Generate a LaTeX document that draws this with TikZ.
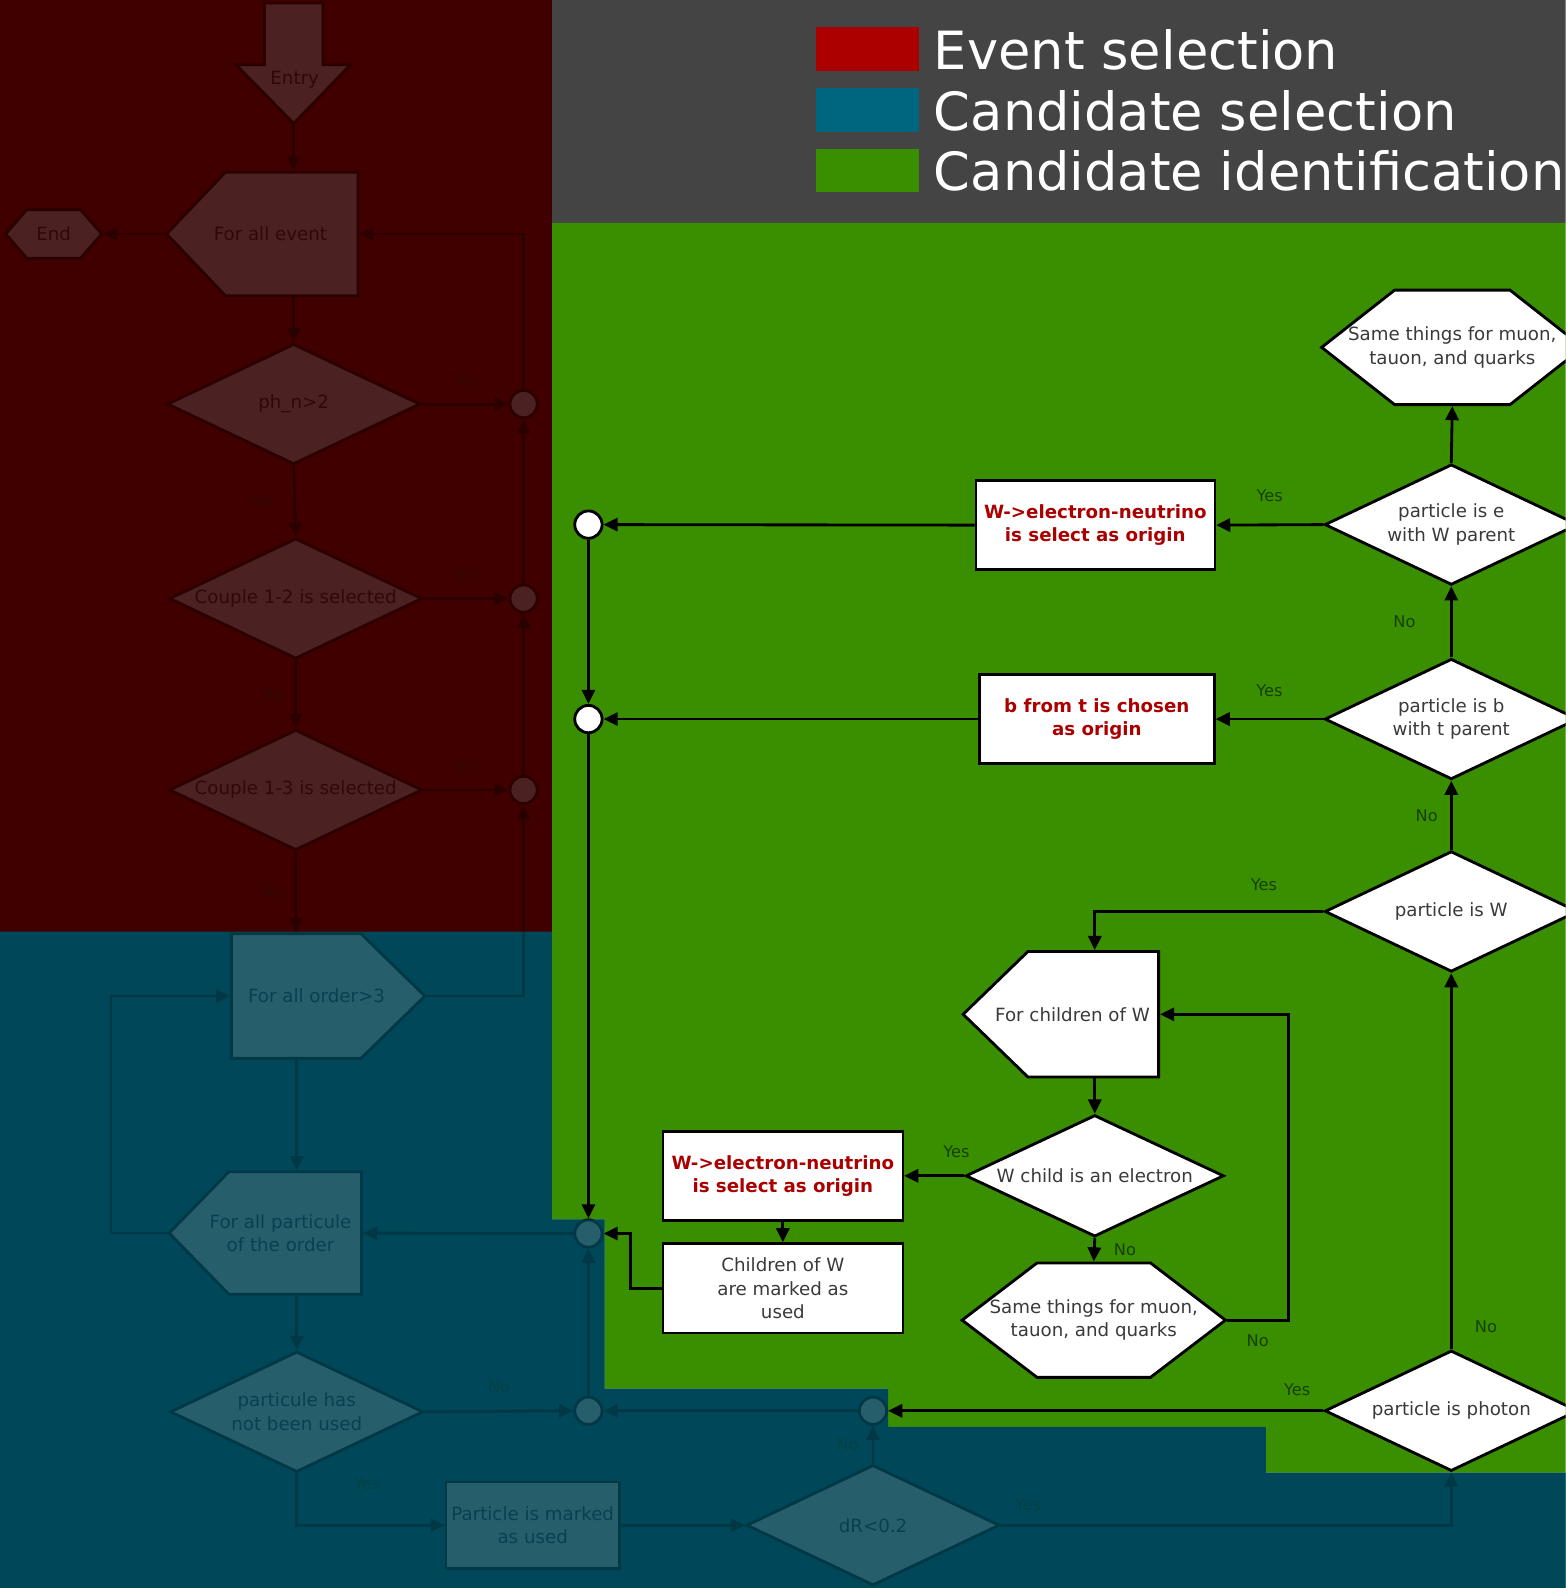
\documentclass[tikz,border=0pt]{standalone}
\usepackage{fontspec}
\setmainfont{DejaVu Sans}
\usetikzlibrary{positioning,arrows.meta,shapes.geometric}

\definecolor{evtred}{RGB}{170,0,0}
\definecolor{candblue}{RGB}{0,102,128}
\definecolor{candgreen}{RGB}{58,143,0}
\definecolor{headgrey}{RGB}{68,68,68}
\definecolor{txtgrey}{RGB}{58,58,58}
\definecolor{lblgreen}{RGB}{22,64,0}
\definecolor{shadered}{RGB}{50,0,0}
\definecolor{shadeblue}{RGB}{0,66,83}

\newcommand\nodefont{\fontsize{18}{23}\selectfont}
\newcommand\lblfont{\fontsize{16}{18}\selectfont}
\newcommand\legfont{\fontsize{52}{60}\selectfont}

% outlines: centre x, centre y, half width, half height, cut
\newcommand\hexshape[5]{\filldraw[shp] (#1-#3,#2) -- (#1-#3+#5,#2-#4) -- (#1+#3-#5,#2-#4) -- (#1+#3,#2) -- (#1+#3-#5,#2+#4) -- (#1-#3+#5,#2+#4) -- cycle;}
\newcommand\penleft[5]{\filldraw[shp] (#1-#3,#2) -- (#1-#3+#5,#2-#4) -- (#1+#3,#2-#4) -- (#1+#3,#2+#4) -- (#1-#3+#5,#2+#4) -- cycle;}
\newcommand\penright[5]{\filldraw[shp] (#1+#3,#2) -- (#1+#3-#5,#2-#4) -- (#1-#3,#2-#4) -- (#1-#3,#2+#4) -- (#1+#3-#5,#2+#4) -- cycle;}

\begin{document}
\begin{tikzpicture}[
  x=1pt, y=-1pt,
  every node/.style={font=\nodefont, text=txtgrey, align=center},
  shp/.style={draw=black, line width=2.8pt, fill=white, inner sep=0pt},
  decision/.style={shp, diamond, aspect=2.1, minimum width=250pt, minimum height=119pt},
  procbox/.style={shp, rectangle, line width=2.5pt, minimum width=237pt, minimum height=88pt},
  origin/.style={procbox, text=evtred, font=\nodefont\bfseries},
  shapetext/.style={rectangle, inner sep=0pt, outer sep=1.4pt},
  junc/.style={shp, circle, minimum size=27pt},
  lbl/.style={font=\lblfont, text=lblgreen, inner sep=0pt},
  arr/.style={-{Triangle[length=14pt,width=13pt]}, line width=2.8pt, draw=black},
  legtext/.style={font=\legfont, text=white, anchor=west, inner sep=0pt}
]
\useasboundingbox (0,0) rectangle (1546,1568);
\clip (0,0) rectangle (1546,1568);

% regions
\fill[evtred] (0,0) rectangle (545,920);
\fill[headgrey] (545,0) rectangle (1546,220);
\fill[candblue] (0,920) -- (545,920) -- (545,1204) -- (597,1204) -- (597,1371) -- (877,1371) -- (877,1409) -- (1250,1409) -- (1250,1454) -- (1546,1454) -- (1546,1568) -- (0,1568) -- cycle;
\fill[candgreen] (545,220) -- (1546,220) -- (1546,1454) -- (1250,1454) -- (1250,1409) -- (877,1409) -- (877,1371) -- (597,1371) -- (597,1204) -- (545,1204) -- cycle;

% legend
\fill[evtred] (806,27) rectangle (907,70);
\fill[candblue] (806,87) rectangle (907,130);
\fill[candgreen] (806,147) rectangle (907,190);
\node[legtext] (legE) at (922,49) {Event selection};
\node[legtext] (legS) at (922,109) {Candidate selection};
\node[legtext] (legI) at (922,169) {Candidate identification};

% event selection
\filldraw[shp] (261,3) -- (319,3) -- (319,64) -- (346,64) -- (290,122) -- (233,64) -- (261,64) -- cycle;
\node (entry) at (291,79) {Entry};
\coordinate (entrytip) at (290,122);
\penleft{259}{231}{94.5}{61}{58}
\node[shapetext, minimum width=189pt, minimum height=122pt] (forE) at (259,231) {\hspace*{16pt}For all event};
\hexshape{53}{231}{47.5}{24}{21}
\node[shapetext, minimum width=95pt, minimum height=48pt] (endN) at (53,231) {End};
\node[decision] (decN) at (290,399) {ph\_n>2};
\node[decision] (dec12) at (292,591) {Couple 1-2 is selected};
\node[decision] (dec13) at (292,780) {Couple 1-3 is selected};
\node[junc] (junN) at (517,399) {};
\node[junc] (jun12) at (517,591) {};
\node[junc] (jun13) at (517,780) {};

% candidate selection
\penright{324}{983.5}{95.5}{61.5}{63}
\node[shapetext, minimum width=191pt, minimum height=123pt] (forO) at (324,983.5) {For all order>3\hspace*{23pt}};
\penleft{262}{1217.5}{95}{60.5}{59}
\node[shapetext, minimum width=190pt, minimum height=121pt] (forP) at (262,1217.5) {\hspace*{30pt}For all particule\\\hspace*{30pt}of the order};
\node[decision] (decU) at (293,1394) {particule has\\not been used};
\node[procbox, minimum width=171pt, minimum height=85pt] (boxU) at (526,1506) {Particle is marked\\as used};
\node[decision] (decR) at (862,1506) {dR<0.2};
\node[junc] (junP) at (581,1218) {};
\node[junc] (junU) at (581,1393) {};
\node[junc] (junD) at (862,1393) {};

% candidate identification
\hexshape{1434}{343}{129}{56.5}{72}
\node[shapetext, minimum width=258pt, minimum height=113pt] (hexT) at (1434,343) {Same things for muon,\\tauon, and quarks};
\node[decision] (decE) at (1433,518) {particle is e\\with W parent};
\node[decision] (decB) at (1433,710) {particle is b\\with t parent};
\node[decision] (decW) at (1433,900) {particle is W};
\node[decision] (decPh) at (1433,1393) {particle is photon};
\node[origin, minimum width=236pt] (boxE) at (1081.5,518.5) {W->electron-neutrino\\is select as origin};
\node[origin, minimum width=232pt] (boxB) at (1083,710) {b from t is chosen\\as origin};
\node[junc] (junE) at (581,518) {};
\node[junc] (junB) at (581,710) {};
\penleft{1047.5}{1001.5}{96.5}{62}{64}
\node[shapetext, minimum width=193pt, minimum height=124pt] (forW) at (1047.5,1001.5) {\hspace*{23pt}For children of W};
\node[decision, minimum width=255pt, minimum height=120pt] (decC) at (1081,1161) {W child is an electron};
\node[origin] (boxC) at (773,1161) {W->electron-neutrino\\is select as origin};
\node[procbox] (boxM) at (773,1272) {Children of W\\are marked as\\used};
\hexshape{1080}{1303.5}{130}{56.5}{74}
\node[shapetext, minimum width=260pt, minimum height=113pt] (hexC) at (1080,1303.5) {Same things for muon,\\tauon, and quarks};

% event selection flow
\draw[arr] (entrytip) -- (entrytip |- forE.north);
\draw[arr] (forE.west) -- (endN.east);
\draw[arr] (forE.south -| decN.north) -- (decN.north);
\draw[arr] (decN.east) -- node[lbl, above=17pt]{No} (junN.west);
\draw[arr] (decN.south) -- node[lbl, left=19pt]{Yes} (dec12.north);
\draw[arr] (dec12.east) -- node[lbl, above=17pt]{Yes} (jun12.west);
\draw[arr] (dec12.south) -- node[lbl, left=11pt]{No} (dec13.north);
\draw[arr] (dec13.east) -- node[lbl, above=17pt]{Yes} (jun13.west);
\draw[arr] (dec13.south) -- node[lbl, left=11pt]{No} (dec13.south |- forO.north);
\draw[arr] (forO.east) -| (jun13.south);
\draw[arr] (jun13.north) -- (jun12.south);
\draw[arr] (jun12.north) -- (junN.south);
\draw[arr] (junN.north) |- (forE.east);

% candidate selection flow
\draw[arr] (forO.south -| decU.north) -- (forP.north -| decU.north);
\draw[arr] (forP.west) -- ++(-56,0) |- (forO.west);
\draw[arr] (junP.west) -- (forP.east);
\draw[arr] (forP.south -| decU.north) -- (decU.north);
\draw[arr] (decU.east) -- node[lbl, above=17pt]{No} (junU.west);
\draw[arr] (junU.north) -- (junP.south);
\draw[arr] (junD.west) -- (junU.east);
\draw[arr] (decU.south) |- node[lbl, pos=0.1, right=55pt]{Yes} (boxU.west);
\draw[arr] (boxU.east) -- (decR.west);
\draw[arr] (decR.north) -- node[lbl, left=13pt]{No} (junD.south);
\draw[arr] (decR.east) -| node[lbl, pos=0.03, above=13pt]{Yes} (decPh.south);

% candidate identification flow
\draw[arr] (decPh.north) -- node[lbl, pos=0.06, right=22pt]{No} (decW.south);
\draw[arr] (decW.north) -- node[lbl, left=12pt]{No} (decB.south);
\draw[arr] (decB.north) -- node[lbl, left=34pt]{No} (decE.south);
\draw[arr] (decE.north) -- (hexT.south);
\draw[arr] (decE.west) -- node[lbl, above=21pt]{Yes} (boxE.east);
\draw[arr] (decB.west) -- node[lbl, above=21pt]{Yes} (boxB.east);
\draw[arr] (decW.west) -| node[lbl, pos=0.13, above=19pt]{Yes} (forW.north -| decC.north);
\draw[arr] (boxE.west) -- (junE.east);
\draw[arr] (boxB.west) -- (junB.east);
\draw[arr] (junE.south) -- (junB.north);
\draw[arr] (junB.south) -- (junP.north);
\draw[arr] (forW.south -| decC.north) -- (decC.north);
\draw[arr] (decC.west) -- node[lbl, pos=0.13, above=16pt]{Yes} (boxC.east);
\draw[arr] (boxC.south) -- (boxM.north);
\draw[arr] (boxM.west) -- ++(-31,0) |- (junP.east);
\draw[arr] (decC.south) -- node[lbl, right=18pt]{No} (hexC.north);
\draw[arr] (hexC.east) -- node[lbl, below=13pt]{No} ++(61,0) |- (forW.east);
\draw[arr] (decPh.west) -- node[lbl, pos=0.06, above=13pt]{Yes} (junD.east);

% shading of the first two stages
\fill[shadered, fill opacity=0.87] (0,0) rectangle (545,920);
\fill[shadeblue, fill opacity=0.85] (0,920) -- (545,920) -- (545,1204) -- (597,1204) -- (597,1371) -- (877,1371) -- (877,1409) -- (1250,1409) -- (1250,1454) -- (1546,1454) -- (1546,1568) -- (0,1568) -- cycle;
\end{tikzpicture}
\end{document}
